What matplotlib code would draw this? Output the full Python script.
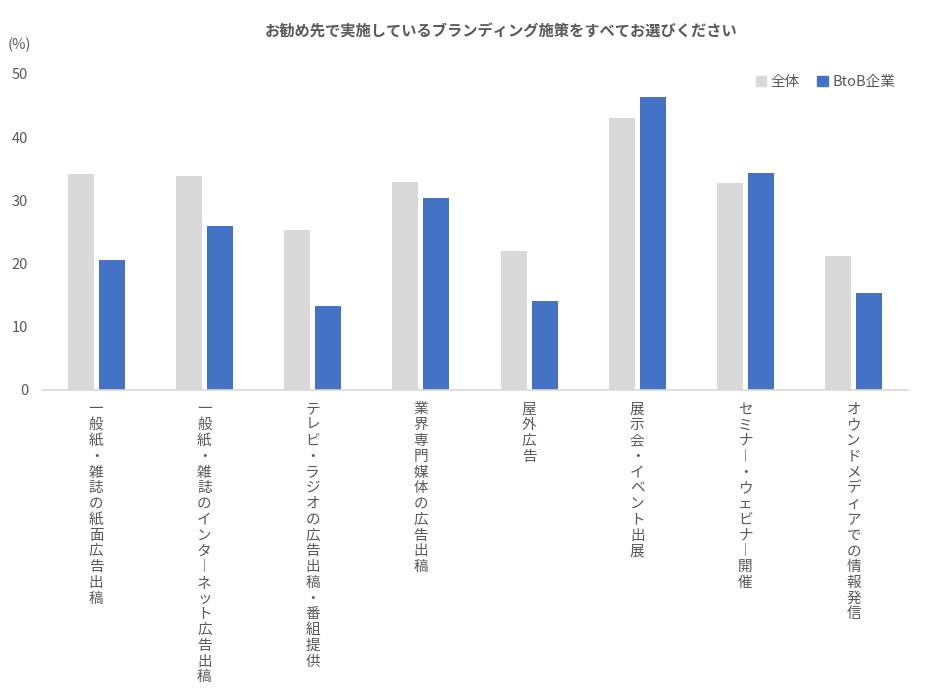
import matplotlib
matplotlib.use("Agg")
import numpy as np
import matplotlib.pyplot as plt
from matplotlib.patches import Patch

plt.rcParams["font.family"] = ["Noto Sans CJK JP", "DejaVu Sans"]

TITLE = "お勧め先で実施しているブランディング施策をすべてお選びください"
CATEGORIES = [
    "一般紙・雑誌の紙面広告出稿",
    "一般紙・雑誌のインターネット広告出稿",
    "テレビ・ラジオの広告出稿・番組提供",
    "業界専門媒体の広告出稿",
    "屋外広告",
    "展示会・イベント出展",
    "セミナー・ウェビナー開催",
    "オウンドメディアでの情報発信",
]
SERIES = ["全体", "BtoB企業"]
ALL_VALUES = [34.2, 33.9, 25.3, 32.9, 22.0, 43.1, 32.8, 21.2]
BTOB_VALUES = [20.5, 25.9, 13.3, 30.4, 14.1, 46.3, 34.3, 15.3]
Y_TICKS = [0, 10, 20, 30, 40, 50]

GRAY = "#D9D9D9"
BLUE = "#4472C4"
TEXT = "#595959"


def vertical(label):
    # stack characters top to bottom, long vowel mark drawn vertically
    return "\n".join("︱" if c == "ー" else c for c in label)


fig = plt.figure(figsize=(9.34, 6.96), dpi=100)
ax = fig.add_axes([0.045, 0.4397, 0.927, 0.454])

x = np.arange(len(CATEGORIES))
w = 0.24
off = 0.143
ax.bar(x - off, ALL_VALUES, w, color=GRAY, label=SERIES[0])
ax.bar(x + off, BTOB_VALUES, w, color=BLUE, label=SERIES[1])

ax.set_xlim(-0.5, len(CATEGORIES) - 0.5)
ax.set_ylim(0, 50)
ax.set_yticks(Y_TICKS)
ax.set_xticks(x)
ax.set_xticklabels([vertical(c) for c in CATEGORIES], fontsize=10.5,
                   color=TEXT, va="top", linespacing=1.16)
ax.tick_params(axis="x", length=0, pad=9)
ax.tick_params(axis="y", length=0, pad=10, labelsize=10.5, labelcolor=TEXT)

for side in ["left", "right", "top"]:
    ax.spines[side].set_visible(False)
ax.spines["bottom"].set_color(GRAY)
ax.spines["bottom"].set_linewidth(1.2)

fig.text(501 / 934, 1 - 32 / 696, TITLE, ha="center", va="center",
         fontsize=11, fontweight="bold", color=TEXT)
fig.text(8 / 934, 1 - 45 / 696, "(%)", ha="left", va="center",
         fontsize=10.5, color=TEXT)

handles = [Patch(color=GRAY), Patch(color=BLUE)]
fig.legend(handles, SERIES, loc="upper right",
           bbox_to_anchor=(908 / 934, 1 - 62 / 696), ncol=2, frameon=False,
           handlelength=0.7, handleheight=0.7, handletextpad=0.3,
           columnspacing=1.2, fontsize=10.5, labelcolor=TEXT)

fig.savefig("out.png", dpi=100)
